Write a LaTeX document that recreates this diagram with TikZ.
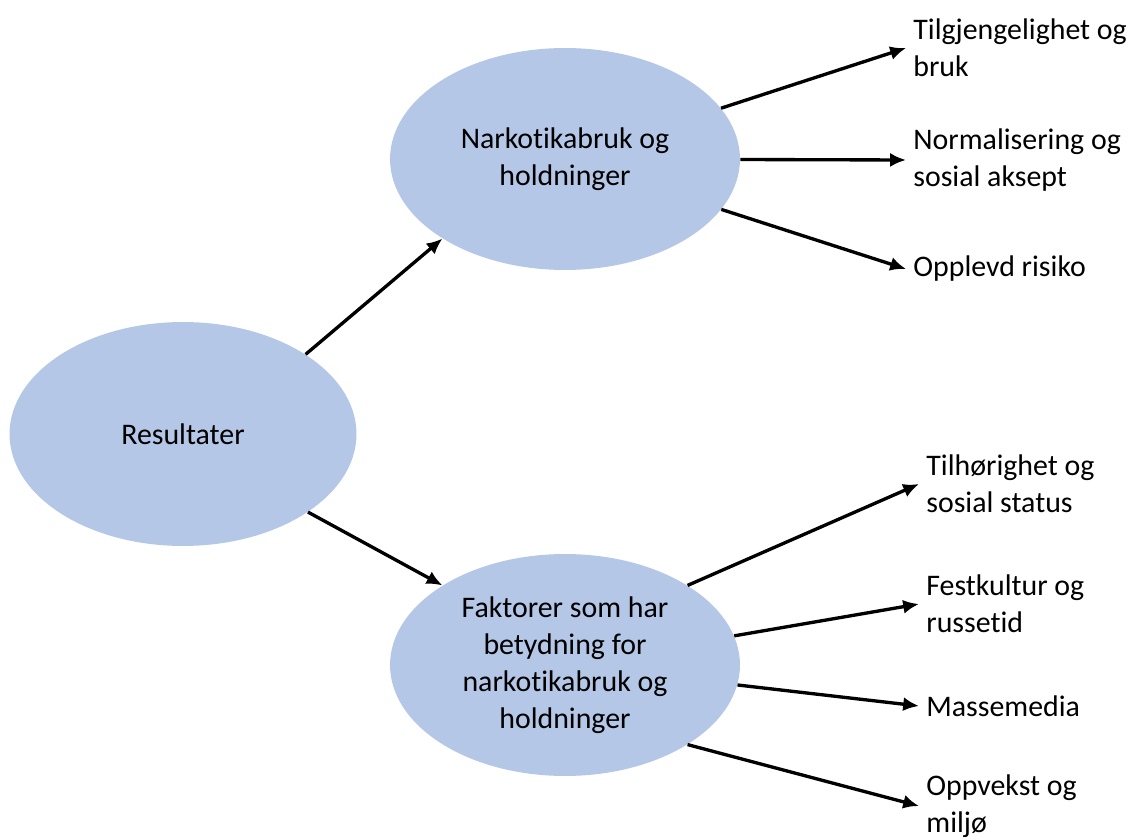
\documentclass[tikz,border=0pt]{standalone}
\usepackage{fontspec}
\setmainfont{Carlito}[RawFeature={-liga;-clig;-dlig;-calt}]
\usetikzlibrary{shapes.geometric,arrows.meta}
\definecolor{ellblue}{HTML}{B4C7E7}
\newcommand{\narko}{narkot\kern0pt ikabruk}
\begin{document}
\begin{tikzpicture}[x=0.02cm,y=-0.02cm,font=\fontsize{17}{21}\selectfont,
  topic/.style={ellipse,fill=ellblue,minimum width=7cm,minimum height=4.44cm,inner sep=0pt,align=center},
  leaf/.style={anchor=west,align=left,inner sep=4pt},
  arr/.style={-{Latex[length=9pt,width=8pt]},line width=1.9pt}]
\useasboundingbox (0,0) rectangle (1135,837);
\node[topic,minimum width=6.94cm,minimum height=4.48cm] (res) at (183,434) {Resultater};
\node[topic] (nark) at (565,159) {Narkot\kern0pt ikabruk og\\holdninger};
\node[topic] (fakt) at (565,665) {Faktorer som har\\betydning for\\\narko{} og\\holdninger};
\node[leaf] (tilg) at (906,48) {Tilgjengelighet og\\bruk};
\node[leaf] (norm) at (906,160) {Normalisering og\\sosial aksept};
\node[leaf] (opp) at (906,269) {Opplevd risiko};
\node[leaf] (tilh) at (919,484) {Tilhørighet og\\sosial status};
\node[leaf] (fest) at (919,604) {Festkultur og\\russetid};
\node[leaf] (mass) at (919,706) {Massemedia};
\node[leaf] (oppv) at (919,806) {Oppvekst og\\miljø};
\draw[arr] (res.33) -- (nark.213);
\draw[arr] (res.-32) -- (fakt.147);
\draw[arr] (nark) -- (tilg.west);
\draw[arr] (nark) -- (norm.west);
\draw[arr] (nark) -- (opp.west);
\draw[arr] (fakt.33) -- (tilh.west);
\draw[arr] (fakt) -- (fest.west);
\draw[arr] (fakt) -- (mass.west);
\draw[arr] (fakt.-33) -- (oppv.west);
\end{tikzpicture}
\end{document}
